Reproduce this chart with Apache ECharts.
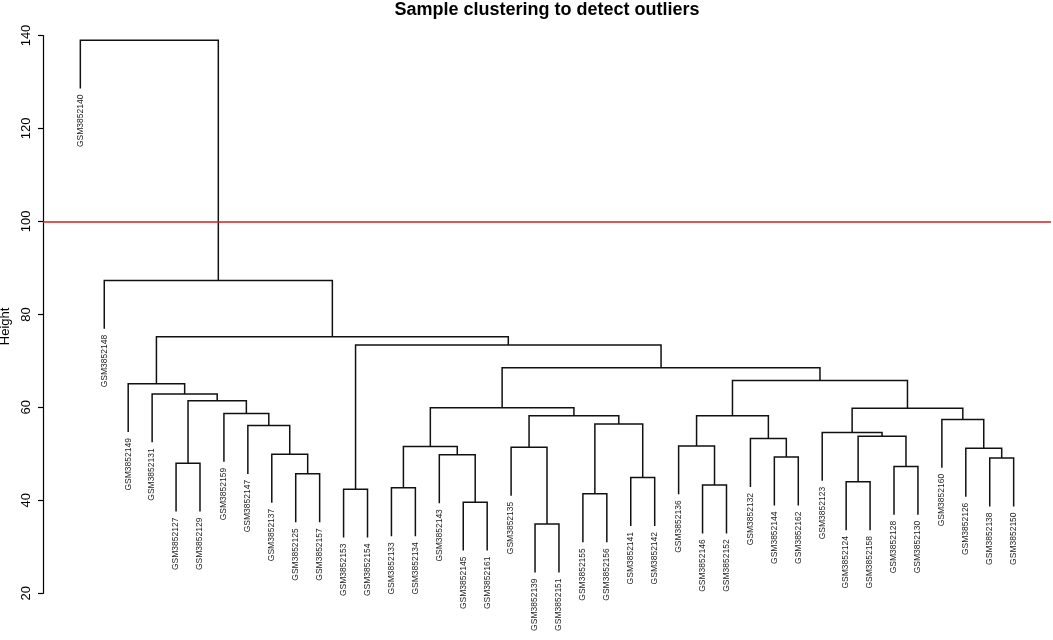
<!DOCTYPE html>
<html>
<head>
<meta charset="utf-8">
<title>Sample clustering to detect outliers</title>
<script src="https://cdn.jsdelivr.net/npm/echarts@6/dist/echarts.min.js"></script>
<style>
  html, body { margin: 0; padding: 0; background: #fff; }
  #main { width: 1053px; height: 640px; }
</style>
</head>
<body>
<div id="main"></div>
<script>
// leaf labels, in dendrogram order (left to right)
const labels = [
  'GSM3852140', 'GSM3852148', 'GSM3852149', 'GSM3852131', 'GSM3852127',
  'GSM3852129', 'GSM3852159', 'GSM3852147', 'GSM3852137', 'GSM3852125',
  'GSM3852157', 'GSM3852153', 'GSM3852154', 'GSM3852133', 'GSM3852134',
  'GSM3852143', 'GSM3852145', 'GSM3852161', 'GSM3852135', 'GSM3852139',
  'GSM3852151', 'GSM3852155', 'GSM3852156', 'GSM3852141', 'GSM3852142',
  'GSM3852136', 'GSM3852146', 'GSM3852152', 'GSM3852132', 'GSM3852144',
  'GSM3852162', 'GSM3852123', 'GSM3852124', 'GSM3852158', 'GSM3852128',
  'GSM3852130', 'GSM3852160', 'GSM3852126', 'GSM3852138', 'GSM3852150'
];

// merges, R hclust style: negative = leaf position (1-based), positive = earlier merge (1-based)
const mergeLeft = [
  -5, -10, -9, -8, -7, 1, -4, -3, -12, -14,
  -17, -16, 10, -20, -19, -22, -24, 16, 15, 13,
  -27, -26, -30, -29, 22, -33, -35, 26, -32, -39,
  -38, -37, 29, 25, 20, 9, 8, -2, -1
];
const mergeRight = [
  -6, -11, 2, 3, 4, 5, 6, 7, -13, -15,
  -18, 11, 12, -21, 14, -23, -25, 17, 18, 19,
  -28, 21, -31, 23, 24, -34, -36, 27, 28, -40,
  30, 31, 32, 33, 34, 35, 36, 37, 38
];
const mergeHeight = [
  48.0, 45.7, 49.9, 56.1, 58.7, 61.4, 62.9, 65.1, 42.4, 42.7,
  39.6, 49.8, 51.6, 34.9, 51.4, 41.4, 44.9, 56.4, 58.2, 59.9,
  43.3, 51.7, 49.3, 53.3, 58.2, 44.0, 47.3, 53.8, 54.6, 49.1,
  51.2, 57.4, 59.8, 65.8, 68.5, 73.4, 75.2, 87.3, 139.0
];

const cutHeight = 100;
const yTicks = [20, 40, 60, 80, 100, 120, 140];

// layout like plot.hclust (hang = 0.1)
const n = labels.length;
const hang = 0.1 * (Math.max(...mergeHeight) - Math.min(...mergeHeight));
const nodeX = [];
const leafEnd = [];
const links = [];
for (let k = 0; k < mergeHeight.length; k++) {
  const h = mergeHeight[k];
  const ends = [mergeLeft[k], mergeRight[k]].map(function (r) {
    if (r < 0) {
      leafEnd[-r - 1] = h - hang;
      return [-r, h - hang];
    }
    return [nodeX[r - 1], mergeHeight[r - 1]];
  });
  nodeX[k] = (ends[0][0] + ends[1][0]) / 2;
  links.push([ends[0][0], ends[0][1], ends[1][0], ends[1][1], h]);
}
const leafData = labels.map(function (name, i) { return [i + 1, leafEnd[i], name]; });

const myChart = echarts.init(document.getElementById('main'));
myChart.setOption({
  animation: false,
  textStyle: { fontFamily: 'Liberation Sans, Arial, sans-serif' },
  title: {
    text: 'Sample clustering to detect outliers',
    left: 547,
    top: 1,
    padding: 0,
    textAlign: 'center',
    textStyle: { fontSize: 18, fontWeight: 'bold', color: '#000', fontFamily: 'Liberation Sans, Arial, sans-serif' }
  },
  grid: { left: 43, right: 2, top: 35.5, bottom: 46.7, outerBoundsMode: 'none', containLabel: false },
  xAxis: {
    type: 'value',
    min: 1 - 0.04 * (n - 1),
    max: n + 0.04 * (n - 1),
    show: false
  },
  yAxis: {
    type: 'value',
    min: yTicks[0],
    max: yTicks[yTicks.length - 1],
    interval: 20,
    name: 'Height',
    nameLocation: 'middle',
    nameRotate: 90,
    nameGap: 31,
    nameTextStyle: { fontSize: 13, color: '#000', padding: [0, 24, 0, 0] },
    axisLine: { show: true, onZero: false, lineStyle: { color: '#000', width: 1.2 } },
    axisTick: { show: true, length: 5, lineStyle: { color: '#000', width: 1.2 } },
    axisLabel: { rotate: 90, fontSize: 13, color: '#000', margin: 10 },
    splitLine: { show: false }
  },
  series: [
    {
      type: 'custom',
      clip: false,
      data: links,
      renderItem: function (params, api) {
        const a = api.coord([api.value(0), api.value(1)]);
        const ah = api.coord([api.value(0), api.value(4)]);
        const bh = api.coord([api.value(2), api.value(4)]);
        const b = api.coord([api.value(2), api.value(3)]);
        return {
          type: 'polyline',
          shape: { points: [a, ah, bh, b] },
          style: { stroke: '#111', lineWidth: 1.5, fill: null }
        };
      },
      markLine: {
        silent: true,
        symbol: 'none',
        label: { show: false },
        lineStyle: { color: '#d02020', width: 1.5, type: 'solid' },
        data: [{ yAxis: cutHeight }]
      }
    },
    {
      type: 'custom',
      clip: false,
      data: leafData,
      renderItem: function (params, api) {
        const p = api.coord([api.value(0), api.value(1)]);
        return {
          type: 'text',
          x: p[0],
          y: p[1] + 6,
          rotation: Math.PI / 2,
          style: {
            text: leafData[params.dataIndex][2],
            x: 0,
            y: 0,
            textAlign: 'right',
            textVerticalAlign: 'middle',
            fontSize: 8.5,
            fill: '#222',
            fontFamily: 'Liberation Sans, Arial, sans-serif'
          }
        };
      }
    }
  ]
});
</script>
</body>
</html>
